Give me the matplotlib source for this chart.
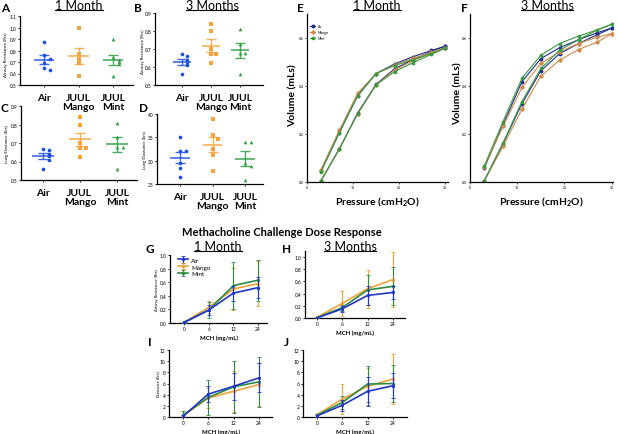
import matplotlib.pyplot as plt
import numpy as np
from matplotlib.lines import Line2D

plt.rcParams['font.family'] = ['Lato', 'DejaVu Sans']
plt.rcParams['mathtext.fontset'] = 'custom'
plt.rcParams['mathtext.rm'] = 'Lato:bold'
plt.rcParams['mathtext.default'] = 'rm'

# --- data ---
groups = ['Air', 'JUUL\nMango', 'JUUL\nMint']

a_air = [0.87, 0.76, 0.73, 0.69, 0.65, 0.63]
a_mango = [1.00, 0.77, 0.73, 0.69, 0.58]
a_mint = [0.90, 0.74, 0.72, 0.70, 0.68, 0.58]

b_air = [0.67, 0.66, 0.64, 0.63, 0.61, 0.56]
b_mango = [0.84, 0.80, 0.70, 0.675, 0.675, 0.625]
b_mint = [0.81, 0.73, 0.68, 0.68, 0.56]

c_air = [0.67, 0.66, 0.64, 0.63, 0.61, 0.56]
c_mango = [0.84, 0.80, 0.70, 0.675, 0.675, 0.625]
c_mint = [0.81, 0.73, 0.68, 0.68, 0.56]

d_air = [35.0, 32.1, 32.1, 29.6, 28.4, 26.6]
d_mango = [38.9, 35.5, 34.6, 32.6, 31.2, 27.8]
d_mint = [34.1, 33.9, 29.6, 28.8, 25.9]

pressure = [3, 7, 11, 15, 19, 23, 27, 30]
e_air_in = [0.004, 0.137, 0.288, 0.407, 0.472, 0.510, 0.545, 0.566]
e_air_out = [0.045, 0.205, 0.360, 0.452, 0.492, 0.522, 0.548, 0.566]
e_mango_in = [0.004, 0.137, 0.285, 0.405, 0.467, 0.505, 0.538, 0.560]
e_mango_out = [0.050, 0.215, 0.370, 0.452, 0.488, 0.515, 0.540, 0.560]
e_mint_in = [0.004, 0.137, 0.285, 0.405, 0.460, 0.497, 0.532, 0.558]
e_mint_out = [0.040, 0.205, 0.360, 0.452, 0.485, 0.510, 0.535, 0.558]

f_air_in = [0.004, 0.160, 0.326, 0.463, 0.535, 0.577, 0.614, 0.641]
f_air_out = [0.057, 0.239, 0.418, 0.514, 0.560, 0.593, 0.622, 0.641]
f_mango_in = [0.003, 0.149, 0.303, 0.441, 0.508, 0.552, 0.583, 0.618]
f_mango_out = [0.062, 0.232, 0.394, 0.494, 0.542, 0.577, 0.604, 0.618]
f_mint_in = [0.004, 0.163, 0.335, 0.473, 0.549, 0.593, 0.634, 0.657]
f_mint_out = [0.066, 0.252, 0.432, 0.528, 0.577, 0.608, 0.634, 0.657]

doses = ['0', '6', '12', '24']
g_air = [0.01, 0.19, 0.44, 0.52]
g_air_err = [0.01, 0.07, 0.11, 0.15]
g_mango = [0.01, 0.23, 0.50, 0.58]
g_mango_err = [0.01, 0.09, 0.31, 0.33]
g_mint = [0.005, 0.19, 0.55, 0.63]
g_mint_err = [0.01, 0.12, 0.35, 0.30]

h_air = [0.0, 0.15, 0.37, 0.42]
h_air_err = [0.01, 0.05, 0.15, 0.10]
h_mango = [0.01, 0.24, 0.48, 0.63]
h_mango_err = [0.01, 0.20, 0.31, 0.45]
h_mint = [0.005, 0.17, 0.46, 0.52]
h_mint_err = [0.01, 0.05, 0.25, 0.31]

i_air = [0.1, 4.1, 5.5, 7.0]
i_air_err = [0.2, 1.4, 2.4, 2.6]
i_mango = [0.2, 3.4, 4.6, 5.8]
i_mango_err = [0.8, 1.8, 3.7, 3.8]
i_mint = [0.3, 3.5, 5.4, 6.3]
i_mint_err = [0.8, 3.2, 4.7, 4.5]

j_air = [0.2, 2.1, 4.6, 5.6]
j_air_err = [0.2, 1.0, 2.6, 2.2]
j_mango = [0.4, 3.2, 5.5, 6.8]
j_mango_err = [0.3, 2.7, 3.3, 4.5]
j_mint = [0.3, 2.6, 5.9, 6.0]
j_mint_err = [0.3, 1.1, 3.3, 3.3]

W, H = 617, 435
fig = plt.figure(figsize=(W / 100, H / 100), dpi=100)


def px_axes(l, t, r, b):
    ax = fig.add_axes([l / W, 1 - b / H, (r - l) / W, (b - t) / H])
    ax.spines[['top', 'right']].set_visible(False)
    ax.spines[['left', 'bottom']].set_linewidth(0.9)
    ax.patch.set_alpha(0)
    return ax


def ftext(x, y, s, **kw):
    kw.setdefault('ha', 'center')
    kw.setdefault('va', 'center')
    return fig.text(x / W, 1 - y / H, s, **kw)


def swarm(vals, tol, step):
    offs = []
    placed = []
    for v in vals:
        k = sum(1 for p in placed if abs(p - v) < tol)
        sign = 1 if k % 2 else -1
        offs.append(0 if k == 0 else sign * ((k + 1) // 2) * step)
        placed.append(v)
    return np.array(offs)


dot_cols = ['#1f4fe0', '#f7a23c', '#2e9e43']
dot_marks = ['o', 's', '^']


def dot_panel(ax, data, ylim, yticks, fmt):
    tol = (ylim[1] - ylim[0]) * 0.06
    for i, vals in enumerate(data):
        vals = np.array(vals)
        col = dot_cols[i]
        ax.scatter(i + swarm(vals, tol, 0.17), vals, s=7, c=col,
                   marker=dot_marks[i], lw=0, zorder=3)
        m = vals.mean()
        sem = vals.std(ddof=1) / np.sqrt(len(vals))
        ax.hlines(m, i - 0.3, i + 0.3, color=col, lw=1.2, alpha=0.85)
        ax.errorbar(i, m, yerr=sem, color=col, fmt='none', capsize=3.8,
                    lw=1.0, capthick=1.0, alpha=0.85)
    ax.set_ylim(*ylim)
    ax.set_yticks(yticks)
    ax.set_yticklabels([fmt.format(t) for t in yticks])
    ax.set_xticks(range(3))
    ax.set_xticklabels(groups, fontsize=7.5, fontweight='bold', linespacing=1.0)
    ax.tick_params(axis='y', labelsize=3.5, length=1.5, width=0.6, pad=1)
    ax.tick_params(axis='x', length=1.5, width=0.6, pad=4)


axA = px_axes(20, 17, 133, 86)
dot_panel(axA, [a_air, a_mango, a_mint], (0.5, 1.1), np.arange(0.5, 1.11, 0.1), '{:.1f}')
axA.set_xlim(-0.7, 2.58)

axB = px_axes(155, 14, 263, 86)
dot_panel(axB, [b_air, b_mango, b_mint], (0.5, 0.9), np.arange(0.5, 0.91, 0.1), '{:.1f}')
axB.set_xlim(-0.93, 2.79)

axC = px_axes(21, 107, 137, 181)
dot_panel(axC, [c_air, c_mango, c_mint], (0.5, 0.9), np.arange(0.5, 0.91, 0.1), '{:.1f}')
axC.set_xlim(-0.59, 2.54)

axD = px_axes(157, 115, 263, 185)
dot_panel(axD, [d_air, d_mango, d_mint], (25, 40), np.arange(25, 41, 5), '{:.0f}')
axD.set_xlim(-0.71, 2.55)

ftext(6, 55, 'Airway Resistance (Rrs)', rotation=90, fontsize=3.2)
ftext(143, 52, 'Airway Resistance (Rrs)', rotation=90, fontsize=3.2)
ftext(7, 144, 'Lung Elastance (Ers)', rotation=90, fontsize=3.2)
ftext(145, 150, 'Lung Elastance (Ers)', rotation=90, fontsize=3.2)

# --- pressure-volume curves ---
pv_cols = ['#1f2e8c', '#d08a4c', '#3a9a40']
pv_marks = ['o', 'D', 's']
pv_names = ['Air', 'Mango', 'Mint']


def pv_panel(ax, curves):
    handles = []
    for k, (cin, cout) in enumerate(curves):
        for cv in (cin, cout):
            h, = ax.plot(pressure, cv, color=pv_cols[k], marker=pv_marks[k],
                         ms=1.8, lw=0.8, label=pv_names[k])
        handles.append(h)
    ax.set_ylim(0, 0.7)
    ax.set_yticks([0.0, 0.2, 0.4, 0.6])
    ax.set_yticklabels(['0.0', '0.2', '0.4', '0.6'])
    ax.set_xticks([0, 10, 20, 30])
    ax.tick_params(labelsize=2.5, length=1.2, width=0.5, pad=1)
    ax.set_xlabel('Pressure (cmH$_2$O)', fontsize=7.5, fontweight='bold', labelpad=4)
    return handles


axE = px_axes(307, 15, 448, 183)
hE = pv_panel(axE, [(e_air_in, e_air_out), (e_mango_in, e_mango_out), (e_mint_in, e_mint_out)])
axE.set_xlim(0, 30.6)
axE.legend(hE, pv_names, loc='upper left', bbox_to_anchor=(0.0, 0.96), fontsize=2.5,
           frameon=False, handlelength=1.5, handletextpad=0.8, labelspacing=0.6)

axF = px_axes(470, 15, 613, 183)
pv_panel(axF, [(f_air_in, f_air_out), (f_mango_in, f_mango_out), (f_mint_in, f_mint_out)])
axF.set_xlim(0, 30.3)

ftext(293, 96, 'Volume (mLs)', rotation=90, fontsize=7.5, fontweight='bold')
ftext(458, 94, 'Volume (mLs)', rotation=90, fontsize=7.5, fontweight='bold')

# --- methacholine dose response ---
mc_cols = ['#2236c8', '#f0a23a', '#2e8b45']
mc_marks = ['s', 'o', 's']
mc_face = ['#2236c8', 'none', '#2e8b45']


def dose_panel(ax, series, ylim, yticks, fmt):
    x = np.arange(len(doses))
    handles = [None, None, None]
    for k in (1, 2, 0):
        m, e = series[k]
        h = ax.errorbar(x, m, yerr=e, color=mc_cols[k], marker=mc_marks[k], ms=2.0,
                        mfc=mc_face[k], mew=0.6, lw=1.2, elinewidth=0.8, capsize=1.5,
                        capthick=0.8, zorder=3 + (k == 0))
        handles[k] = h
    ax.set_ylim(*ylim)
    ax.set_yticks(yticks)
    ax.set_yticklabels([fmt.format(t) for t in yticks])
    ax.set_xticks(x)
    ax.set_xticklabels(doses)
    ax.tick_params(labelsize=3.5, length=1.5, width=0.6, pad=1)
    ax.set_xlabel('MCH (mg/mL)', fontsize=4.3, fontweight='bold', labelpad=2)
    return handles


axG = px_axes(170, 256, 267, 324)
hG = dose_panel(axG, [(g_air, g_air_err), (g_mango, g_mango_err), (g_mint, g_mint_err)],
                (0, 1.0), np.arange(0, 1.01, 0.2), '{:.1f}')
axG.set_xlim(-0.57, 3.36)
axG.legend(hG, pv_names, loc='upper left', bbox_to_anchor=(0.02, 1.05), fontsize=4.5,
           frameon=False, handlelength=1.6, handletextpad=0.6, labelspacing=0.25)

axH = px_axes(305, 252, 405, 319)
dose_panel(axH, [(h_air, h_air_err), (h_mango, h_mango_err), (h_mint, h_mint_err)],
           (0, 1.1), np.arange(0, 1.01, 0.2), '{:.1f}')
axH.set_xlim(-0.47, 3.48)

axI = px_axes(169, 351, 272, 418)
dose_panel(axI, [(i_air, i_air_err), (i_mango, i_mango_err), (i_mint, i_mint_err)],
           (0, 12), np.arange(0, 13, 2), '{:.0f}')
axI.set_xlim(-0.55, 3.52)

axJ = px_axes(303, 351, 407, 418)
dose_panel(axJ, [(j_air, j_air_err), (j_mango, j_mango_err), (j_mint, j_mint_err)],
           (0, 12), np.arange(0, 13, 2), '{:.0f}')
axJ.set_xlim(-0.55, 3.56)

ftext(157, 290, 'Airway Resistance (Rrs)', rotation=90, fontsize=3.0)
ftext(158, 384, 'Elastance (Ers)', rotation=90, fontsize=3.0)

# --- panel letters and titles ---
for s, x, y in [('A', 5, 8), ('B', 138, 8), ('C', 4, 108), ('D', 143, 108),
                ('E', 300, 8), ('F', 464, 8), ('G', 150, 250), ('H', 287, 250),
                ('I', 150, 343), ('J', 286, 343)]:
    ftext(x, y, s, fontsize=8.5, fontweight='bold')

titles = []
for s, x, y in [('1 Month', 79, 6), ('3 Months', 212, 6), ('1 Month', 377, 6),
                ('3 Months', 547, 6), ('1 Month', 218, 247), ('3 Months', 350, 247)]:
    titles.append(ftext(x, y, s, fontsize=9))
ftext(282, 233, 'Methacholine Challenge Dose Response', fontsize=8, fontweight='bold')

fig.canvas.draw()
inv = fig.transFigure.inverted()
for t in titles:
    bb = t.get_window_extent()
    (x0, y0), (x1, _) = inv.transform([(bb.x0, bb.y0 + 1), (bb.x1, bb.y0 + 1)])
    fig.add_artist(Line2D([x0, x1], [y0, y0], color='black', lw=0.8, transform=fig.transFigure))

fig.savefig('out.png', dpi=100)
